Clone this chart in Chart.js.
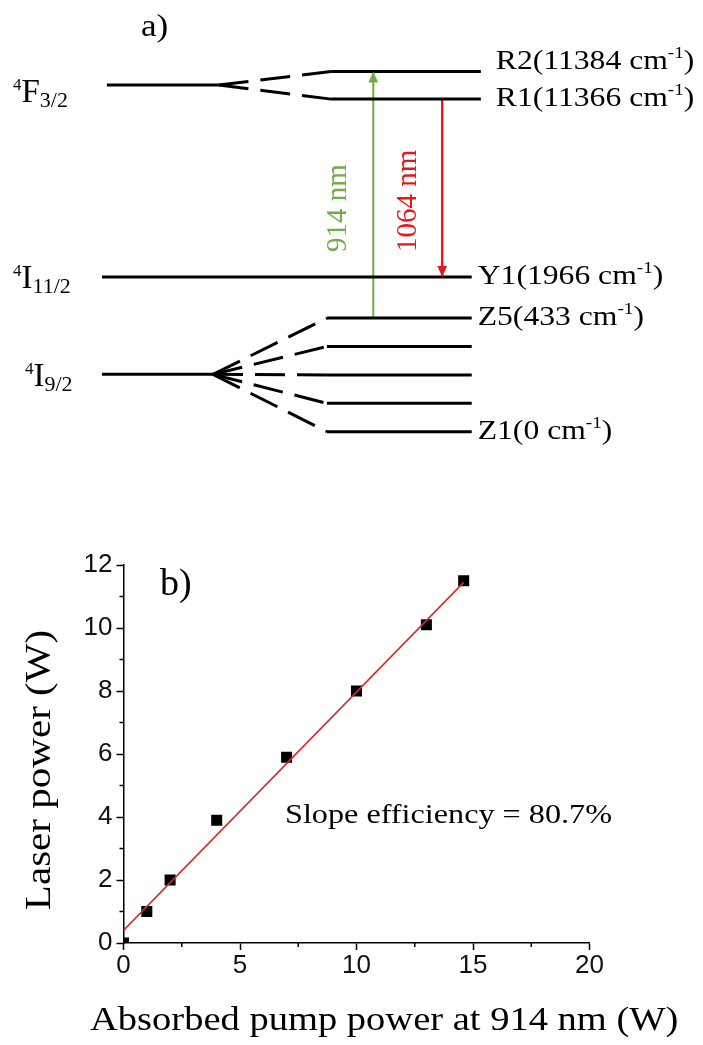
<!DOCTYPE html>
<html>
<head>
<meta charset="utf-8">
<script src="https://cdn.jsdelivr.net/npm/chart.js@4.4.1/dist/chart.umd.min.js"></script>
<style>
html,body{margin:0;padding:0;background:#fff;}
#wrap{position:relative;width:703px;height:1045px;overflow:hidden;}
#diagram{position:absolute;left:0;top:0;}
#plot{position:absolute;left:0;top:480px;}
</style>
</head>
<body>
<div id="wrap">
<canvas id="diagram" width="703" height="480"></canvas>
<canvas id="plot" width="703" height="565"></canvas>
</div>
<script>
// ================= DATA : panel b) =================
const pumpPower  = [0, 1, 2, 4, 7, 10, 13, 14.6];          // absorbed pump power (W)
const laserPower = [0, 1.0, 2.0, 3.9, 5.9, 8.0, 10.1, 11.5]; // laser power (W)
const fitPump    = [0, 14.6];                               // linear fit end points (W)
const fitLaser   = [0.4, 11.45];
const xTicks = [0, 5, 10, 15, 20];
const yTicks = [0, 2, 4, 6, 8, 10, 12];
const xMinorTicks = [2.5, 7.5, 12.5, 17.5];
const yMinorTicks = [1, 3, 5, 7, 9, 11];
const xTitle = 'Absorbed pump power at 914 nm (W)';
const yTitle = 'Laser power (W)';
const slopeText = 'Slope efficiency = 80.7%';
const panelB = 'b)';

// ================= DATA : panel a) (schematic level diagram) =================
const sublevelNames  = ['R2', 'R1', 'Y1', 'Z5', 'Z4', 'Z3', 'Z2', 'Z1'];
const sublevelEnergy = [11384, 11366, 1966, 433, null, null, null, 0]; // cm-1 (null = unlabelled)
const sublevelRank   = [12.68, 11.71, 5.45, 4, 3, 2, 1, 0];             // schematic height
const sublevelManifold = [0, 0, 1, 2, 2, 2, 2, 2];
const manifoldMult = ['4', '4', '4'];
const manifoldL    = ['F', 'I', 'I'];
const manifoldJ    = ['3/2', '11/2', '9/2'];
const manifoldRank = [12.21, 5.45, 2.02];
const transitionFrom  = ['Z5', 'R1'];
const transitionTo    = ['R2', 'Y1'];
const transitionLabel = ['914 nm', '1064 nm'];
const panelA = 'a)';

// ================= STYLE / LAYOUT =================
const SERIF = "'Liberation Serif','Times New Roman',serif";
const SANS  = "'Liberation Sans',Arial,sans-serif";
const LAY = {
  manifoldX0: [15.2, 14.5, 14.5],
  fanX0:      [31.1, null, 30.3],
  subX0:      [47.1, 46.5, 46.5],
  subX1:      [68.4, 67.1, 67.1],
  labelGapPx: [15, 6, 6],
  labelBaseDy:[-3, 7, 7, 7, 7, 7, 7, 7],
  manLabelX:  [13, 13, 25],
  manLabelDy: [17, 11, 12],
  arrowX:     [53.1, 62.9],
  arrowColor: ['#70AD47', '#E8161B'],
  arrowWidth: [2, 2.4],
  arrowTextDx:[-35, -33.5],
  arrowTextY: 252
};

function drawRich(ctx, parts, x, y, sx, color) {
  ctx.save();
  ctx.translate(x, y);
  ctx.scale(sx, 1);
  ctx.fillStyle = color || '#000';
  ctx.textBaseline = 'alphabetic';
  ctx.textAlign = 'left';
  let cx = 0;
  parts.forEach(p => {
    ctx.font = p.size + 'px ' + SERIF;
    ctx.fillText(p.t, cx, p.dy || 0);
    cx += ctx.measureText(p.t).width;
  });
  ctx.restore();
}

// ---------- build diagram datasets ----------
const rankOf = name => sublevelRank[sublevelNames.indexOf(name)];
function seg(x0, y0, x1, y1, opts) {
  return Object.assign({
    type: 'line',
    data: [{x: x0, y: y0}, {x: x1, y: y1}],
    borderColor: '#000', borderWidth: 3, pointRadius: 0,
    borderDash: [], fill: false, clip: false, tension: 0
  }, opts || {});
}
const diagSets = [];
manifoldRank.forEach((r, m) => {
  const subs = sublevelRank.map((_, i) => i).filter(i => sublevelManifold[i] === m);
  if (subs.length === 1) {
    diagSets.push(seg(LAY.manifoldX0[m], r, LAY.subX1[m], r));
  } else {
    diagSets.push(seg(LAY.manifoldX0[m], r, LAY.fanX0[m], r));
    subs.forEach(i => {
      diagSets.push(seg(LAY.fanX0[m], r, LAY.subX0[m], sublevelRank[i], {borderDash: [30, 12]}));
      diagSets.push(seg(LAY.subX0[m], sublevelRank[i], LAY.subX1[m], sublevelRank[i]));
    });
  }
});
const arrowIdx = [];
transitionFrom.forEach((f, k) => {
  arrowIdx.push(diagSets.length);
  diagSets.push(seg(LAY.arrowX[k], rankOf(f), LAY.arrowX[k], rankOf(transitionTo[k]),
    {borderColor: LAY.arrowColor[k], borderWidth: LAY.arrowWidth[k]}));
});

const diagramPlugin = {
  id: 'diagramText',
  afterDatasetsDraw(chart) {
    const ctx = chart.ctx;
    // arrow heads
    arrowIdx.forEach((di, k) => {
      const pts = chart.getDatasetMeta(di).data;
      const a = pts[0], b = pts[1];
      const dir = Math.sign(b.y - a.y);
      const L = 11, W = 4.8;
      ctx.save();
      ctx.fillStyle = LAY.arrowColor[k];
      ctx.beginPath();
      ctx.moveTo(b.x, b.y);
      ctx.lineTo(b.x - W, b.y - dir * L);
      ctx.lineTo(b.x + W, b.y - dir * L);
      ctx.closePath();
      ctx.fill();
      ctx.restore();
      // rotated wavelength label
      ctx.save();
      ctx.translate(b.x + LAY.arrowTextDx[k], LAY.arrowTextY);
      ctx.rotate(-Math.PI / 2);
      ctx.font = '29px ' + SERIF;
      ctx.fillStyle = LAY.arrowColor[k];
      ctx.textAlign = 'left';
      ctx.textBaseline = 'middle';
      ctx.fillText(transitionLabel[k], 0, 0);
      ctx.restore();
    });
    const xs = chart.scales.x, ys = chart.scales.y;
    // sublevel labels
    sublevelNames.forEach((n, i) => {
      if (sublevelEnergy[i] === null) return;
      const m = sublevelManifold[i];
      const x = xs.getPixelForValue(LAY.subX1[m]) + LAY.labelGapPx[m];
      const y = ys.getPixelForValue(sublevelRank[i]) + LAY.labelBaseDy[i];
      drawRich(ctx, [
        {t: n + '(' + sublevelEnergy[i] + ' cm', size: 28},
        {t: '-1', size: 17, dy: -11},
        {t: ')', size: 28}
      ], x, y, 1.13);
    });
    // manifold labels
    manifoldL.forEach((L, m) => {
      const y = ys.getPixelForValue(manifoldRank[m]) + LAY.manLabelDy[m];
      drawRich(ctx, [
        {t: manifoldMult[m], size: 17, dy: -12},
        {t: L, size: 33},
        {t: manifoldJ[m], size: 22, dy: 5}
      ], LAY.manLabelX[m], y, 1.0);
    });
    drawRich(ctx, [{t: panelA, size: 32}], 141, 36, 1.1);
  }
};

new Chart(document.getElementById('diagram'), {
  type: 'scatter',
  data: {datasets: diagSets},
  options: {
    responsive: false, animation: false, events: [],
    layout: {padding: 0},
    plugins: {legend: {display: false}, tooltip: {enabled: false}},
    scales: {
      x: {type: 'linear', min: 0, max: 100, display: false},
      y: {type: 'linear', min: -1.7, max: 15.2, display: false}
    }
  },
  plugins: [diagramPlugin]
});

// ---------- panel b chart ----------
const plotPlugin = {
  id: 'plotExtras',
  afterDraw(chart) {
    const ctx = chart.ctx, a = chart.chartArea;
    const xs = chart.scales.x, ys = chart.scales.y;
    ctx.save();
    ctx.strokeStyle = '#000';
    ctx.lineWidth = 1.5;
    xMinorTicks.forEach(v => {
      const p = xs.getPixelForValue(v);
      ctx.beginPath(); ctx.moveTo(p, a.bottom); ctx.lineTo(p, a.bottom + 4); ctx.stroke();
    });
    yMinorTicks.forEach(v => {
      const p = ys.getPixelForValue(v);
      ctx.beginPath(); ctx.moveTo(a.left - 4, p); ctx.lineTo(a.left, p); ctx.stroke();
    });
    ctx.restore();
    drawRich(ctx, [{t: xTitle, size: 33.5}], 90, 550, 1.15);
    ctx.save();
    ctx.translate(50, 290);
    ctx.rotate(-Math.PI / 2);
    ctx.scale(1.14, 1);
    ctx.font = '36px ' + SERIF;
    ctx.fillStyle = '#000';
    ctx.textAlign = 'center';
    ctx.textBaseline = 'alphabetic';
    ctx.fillText(yTitle, 0, 0);
    ctx.restore();
    drawRich(ctx, [{t: panelB, size: 38}], 160, 115, 1.0);
    drawRich(ctx, [{t: slopeText, size: 28}], 285, 343, 1.15);
  }
};

new Chart(document.getElementById('plot'), {
  type: 'scatter',
  data: {
    datasets: [
      {
        type: 'line',
        data: fitPump.map((x, i) => ({x: x, y: fitLaser[i]})),
        borderColor: '#D42B2B', borderWidth: 1.6, pointRadius: 0, fill: false, order: 0
      },
      {
        data: pumpPower.map((x, i) => ({x: x, y: laserPower[i]})),
        pointStyle: 'rect', pointRadius: 7.8, backgroundColor: '#000', borderWidth: 0,
        clip: {left: 0, bottom: 0, top: false, right: false}, order: 1
      }
    ]
  },
  options: {
    responsive: false, animation: false, events: [],
    layout: {padding: {left: 0, right: 113.5, top: 85, bottom: 0}},
    plugins: {legend: {display: false}, tooltip: {enabled: false}},
    scales: {
      x: {
        type: 'linear', min: 0, max: 20,
        afterBuildTicks: s => { s.ticks = xTicks.map(v => ({value: v})); },
        afterFit: s => { s.height = 102; },
        grid: {drawOnChartArea: false, drawTicks: true, tickLength: 7, tickColor: '#000', tickWidth: 1.5},
        border: {display: true, color: '#000', width: 1.5},
        ticks: {color: '#111', font: {family: SANS, size: 26}, padding: 0, maxRotation: 0, autoSkip: false}
      },
      y: {
        type: 'linear', min: 0, max: 12,
        afterBuildTicks: s => { s.ticks = yTicks.map(v => ({value: v})); },
        afterFit: s => { s.width = 123.5; },
        grid: {drawOnChartArea: false, drawTicks: true, tickLength: 7, tickColor: '#000', tickWidth: 1.5},
        border: {display: true, color: '#000', width: 1.5},
        ticks: {color: '#111', font: {family: SANS, size: 26}, padding: 4, autoSkip: false}
      }
    }
  },
  plugins: [plotPlugin]
});
</script>
</body>
</html>
